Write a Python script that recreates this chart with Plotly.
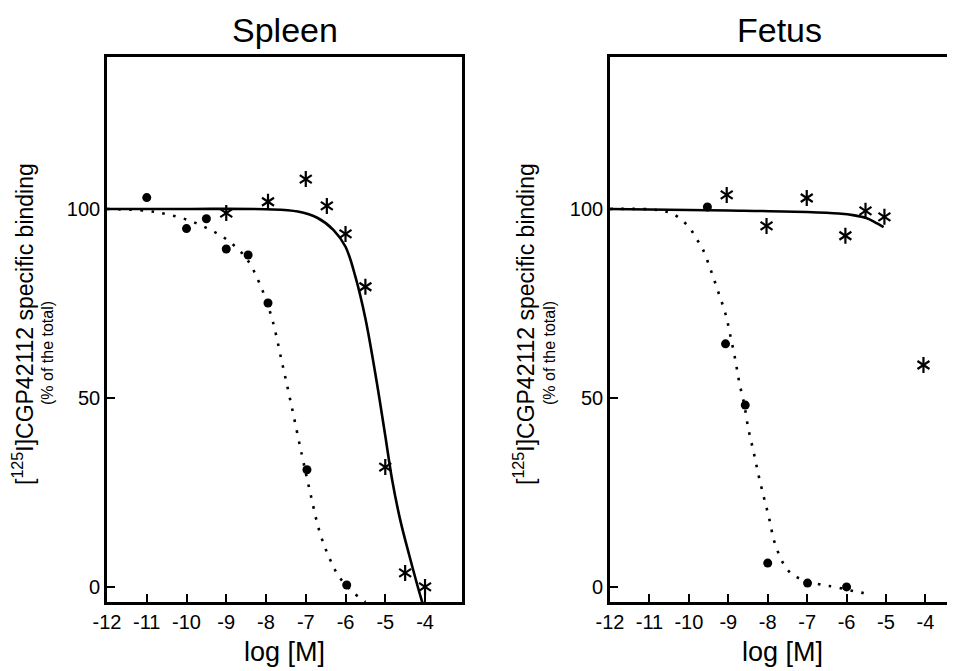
import plotly.graph_objects as go
from plotly.subplots import make_subplots

FONT = "Liberation Sans, Arial, sans-serif"

# Spleen measured points
spleen_dot_x = [-11.0, -10.0, -9.5, -9.0, -8.45, -7.95, -6.97, -5.97]
spleen_dot_y = [103.0, 94.8, 97.4, 89.4, 87.8, 75.1, 31.0, 0.5]
spleen_star_x = [-9.0, -7.95, -7.0, -6.47, -6.0, -5.5, -5.0, -4.5, -4.0]
spleen_star_y = [98.9, 101.9, 107.9, 100.8, 93.4, 79.4, 31.7, 3.7, 0.0]

# Spleen fitted curves
spleen_fit_solid_x = [-12, -10, -8, -7.2, -6.7, -6.3, -6.0, -5.75, -5.5, -5.3, -5.15,
                      -5.0, -4.83, -4.63, -4.4, -4.1, -3.95]
spleen_fit_solid_y = [100, 100, 99.9, 99.3, 97.6, 94.4, 90, 82, 71, 59.5, 50,
                      40, 28.5, 18, 8.5, -3, -8]
spleen_fit_dot_x = [-12, -11, -10.5, -10, -9.5, -9, -8.5, -8.15, -7.85, -7.6, -7.35,
                    -7.1, -6.9, -6.65, -6.4, -6.15, -5.8, -5.5]
spleen_fit_dot_y = [100, 99.5, 98.6, 97.2, 95, 92, 87, 80, 71, 59.5, 47.5,
                    35, 25.5, 14.5, 7.5, 2.5, -1.5, -4]

# Fetus measured points
fetus_dot_x = [-9.53, -9.07, -8.57, -8.0, -6.99, -6.0]
fetus_dot_y = [100.5, 64.3, 48.1, 6.3, 1.0, 0.0]
fetus_star_x = [-9.04, -8.03, -7.01, -6.03, -5.52, -5.04, -4.05]
fetus_star_y = [103.7, 95.5, 102.9, 92.9, 99.5, 97.9, 58.7]

# Fetus fitted curves
fetus_fit_solid_x = [-12, -9, -7, -6.2, -5.8, -5.5, -5.3, -5.06]
fetus_fit_solid_y = [100, 99.6, 99.2, 98.8, 98.3, 97.6, 96.6, 95.2]
fetus_fit_dot_x = [-12, -11, -10.67, -10.41, -10.16, -9.96, -9.8, -9.65, -9.45, -9.25,
                   -9.07, -8.94, -8.82, -8.72, -8.6, -8.49, -8.36, -8.24, -8.1, -7.96,
                   -7.83, -7.6, -7.42, -7.17, -6.61, -6.3, -5.75, -5.44]
fetus_fit_dot_y = [100, 99.9, 99.5, 98.7, 96.9, 94.7, 92, 89.4, 84, 77.9,
                   72.2, 66.1, 60, 54, 48.5, 41.8, 35.8, 29.9, 23.8, 18,
                   11.9, 6.1, 3.7, 2.1, 0.5, 0.0, -1.3, -1.8]

x_ticks = [-12, -11, -10, -9, -8, -7, -6, -5, -4]
x_tick_labels = ["-12", "-11", "-10", "-9", "-8", "-7", "-6", "-5", "-4"]
y_ticks = [0, 50, 100]
panel_titles = ["Spleen", "Fetus"]

# the page puts the figure 8px in from the window corner
W, H = 947, 663
PLOT_TOP, PLOT_BOTTOM = 49, 594

fig = make_subplots(rows=1, cols=2)

panels = [
    (1, spleen_fit_solid_x, spleen_fit_solid_y, spleen_fit_dot_x, spleen_fit_dot_y,
     spleen_dot_x, spleen_dot_y, spleen_star_x, spleen_star_y),
    (2, fetus_fit_solid_x, fetus_fit_solid_y, fetus_fit_dot_x, fetus_fit_dot_y,
     fetus_dot_x, fetus_dot_y, fetus_star_x, fetus_star_y),
]

for col, sx, sy, dx, dy, cx, cy, ax, ay in panels:
    fig.add_trace(go.Scatter(x=dx, y=dy, mode="lines", line_shape="spline",
                             line=dict(color="black", width=2.6, dash="2.6px,8.5px")),
                  row=1, col=col)
    fig.add_trace(go.Scatter(x=sx, y=sy, mode="lines", line_shape="spline",
                             line=dict(color="black", width=2.6)),
                  row=1, col=col)
    fig.add_trace(go.Scatter(x=cx, y=cy, mode="markers",
                             marker=dict(color="black", size=9, symbol="circle")),
                  row=1, col=col)
    # asterisks: two Y shapes overlaid
    for sym in ["y-up-open", "y-down-open"]:
        fig.add_trace(go.Scatter(x=ax, y=ay, mode="markers",
                                 marker=dict(symbol=sym, size=10, color="black",
                                             line=dict(color="black", width=2.2))),
                      row=1, col=col)

axis_common = dict(showline=True, linecolor="black", linewidth=2.6,
                   ticks="inside", ticklen=8, tickwidth=2, tickcolor="black",
                   showgrid=False, zeroline=False, automargin=False,
                   tickfont=dict(family=FONT, size=20, color="black"))

fig.update_xaxes(**axis_common, tickvals=x_ticks, ticktext=x_tick_labels, mirror=True,
                 title=dict(text="log [M]", font=dict(family=FONT, size=27, color="black"),
                            standoff=11))
fig.update_xaxes(range=[-12, -3.07], domain=[99 / W, 454 / W], row=1, col=1)
fig.update_xaxes(range=[-12, -3.25], domain=[602 / W, 1.0], row=1, col=2)
fig.update_yaxes(**axis_common, tickvals=y_ticks, range=[-4, 140.2], domain=[0, 1])
fig.update_yaxes(mirror=True, row=1, col=1)
fig.update_yaxes(mirror=False, row=1, col=2)

plot_h = PLOT_BOTTOM - PLOT_TOP
annotations = []
for title, x0, x1 in [(panel_titles[0], 99, 454), (panel_titles[1], 602, 940)]:
    annotations.append(dict(text=title, x=(x0 + x1) / 2 / W, y=1.05, xref="paper", yref="paper",
                            xanchor="center", yanchor="middle", showarrow=False,
                            font=dict(family=FONT, size=34, color="black")))
for xm, xs in [(15, 39), (516, 541)]:
    annotations.append(dict(text="[<sup>125</sup>I]CGP42112 specific binding",
                            x=xm / W, y=(PLOT_BOTTOM - 316) / plot_h, xref="paper", yref="paper",
                            xanchor="center", yanchor="middle", textangle=-90, showarrow=False,
                            font=dict(family=FONT, size=23, color="black")))
    annotations.append(dict(text="(% of the total)",
                            x=xs / W, y=(PLOT_BOTTOM - 345) / plot_h, xref="paper", yref="paper",
                            xanchor="center", yanchor="middle", textangle=-90, showarrow=False,
                            font=dict(family=FONT, size=16, color="black")))

fig.update_layout(
    width=W, height=H,
    margin=dict(l=0, r=0, t=PLOT_TOP, b=H - PLOT_BOTTOM),
    paper_bgcolor="white", plot_bgcolor="white",
    showlegend=False,
    annotations=annotations,
    font=dict(family=FONT, color="black"),
)

fig.write_html("out.html")
